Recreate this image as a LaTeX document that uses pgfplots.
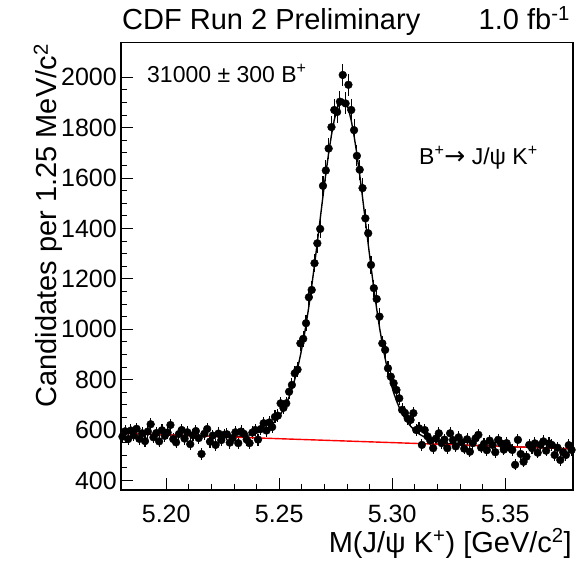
\documentclass[border=0pt]{standalone}
\usepackage{pgfplots}
\usepackage{pgfplotstable}
\pgfplotsset{compat=1.18}
\usepackage{fontspec}
\setmainfont{Liberation Sans}
\newfontfamily\dejavu{DejaVu Sans}

\pgfplotstableread{
x n
5.180625 574
5.181875 595
5.183125 564
5.184375 598
5.185625 579
5.186875 605
5.188125 565
5.189375 587
5.190625 556
5.191875 594
5.193125 623
5.194375 571
5.195625 588
5.196875 555
5.198125 599
5.199375 577
5.200625 590
5.201875 620
5.203125 564
5.204375 551
5.205625 584
5.206875 600
5.208125 566
5.209375 591
5.210625 544
5.211875 579
5.213125 596
5.214375 568
5.215625 505
5.216875 585
5.218125 604
5.219375 554
5.220625 578
5.221875 541
5.223125 586
5.224375 560
5.225625 581
5.226875 583
5.228125 550
5.229375 568
5.230625 591
5.231875 548
5.233125 594
5.234375 585
5.235625 562
5.236875 548
5.238125 590
5.239375 600
5.240625 562
5.241875 604
5.243125 627
5.244375 598
5.245625 630
5.246875 612
5.248125 652
5.249375 657
5.250625 706
5.251875 688
5.253125 706
5.254375 752
5.255625 779
5.256875 825
5.258125 840
5.259375 944
5.260625 962
5.261875 1024
5.263125 1127
5.264375 1156
5.265625 1262
5.266875 1341
5.268125 1398
5.269375 1569
5.270625 1630
5.271875 1717
5.273125 1802
5.274375 1870
5.275625 1862
5.276875 1903
5.278125 2009
5.279375 1896
5.280625 1970
5.281875 1870
5.283125 1790
5.284375 1688
5.285625 1633
5.286875 1560
5.288125 1440
5.289375 1381
5.290625 1255
5.291875 1163
5.293125 1120
5.294375 1050
5.295625 944
5.296875 918
5.298125 845
5.299375 812
5.300625 786
5.301875 759
5.303125 726
5.304375 680
5.305625 668
5.306875 645
5.308125 640
5.309375 667
5.310625 600
5.311875 607
5.313125 541
5.314375 600
5.315625 575
5.316875 558
5.318125 528
5.319375 566
5.320625 587
5.321875 548
5.323125 562
5.324375 528
5.325625 587
5.326875 560
5.328125 535
5.329375 571
5.330625 552
5.331875 526
5.333125 563
5.334375 514
5.335625 548
5.336875 567
5.338125 581
5.339375 530
5.340625 545
5.341875 520
5.343125 558
5.344375 541
5.345625 512
5.346875 561
5.348125 547
5.349375 522
5.350625 548
5.351875 530
5.353125 521
5.354375 462
5.355625 561
5.356875 505
5.358125 474
5.359375 494
5.360625 541
5.361875 528
5.363125 547
5.364375 510
5.365625 541
5.366875 555
5.368125 518
5.369375 547
5.370625 541
5.371875 501
5.373125 530
5.374375 481
5.375625 512
5.376875 501
5.378125 540
5.379375 521
}\datatable

\pgfplotstableread{
x f
5.180000 587.3
5.223125 573.9
5.224375 574.0
5.225625 574.1
5.226875 574.3
5.228125 574.5
5.229375 574.7
5.230625 575.0
5.231875 575.4
5.233125 576.0
5.234375 577.4
5.235625 579.1
5.236875 580.7
5.238125 583.3
5.239375 585.9
5.240625 589.5
5.241875 594.1
5.243125 599.7
5.244375 605.3
5.245625 613.9
5.246875 622.6
5.248125 634.2
5.249375 646.8
5.250625 663.4
5.251875 682.0
5.253125 704.6
5.254375 731.2
5.255625 762.9
5.256875 800.5
5.258125 844.1
5.259375 895.7
5.260625 952.3
5.261875 1017.9
5.263125 1090.5
5.264375 1170.1
5.265625 1255.7
5.266875 1345.4
5.268125 1437.0
5.269375 1528.6
5.270625 1617.2
5.271875 1698.8
5.273125 1770.4
5.274375 1831.0
5.275625 1875.6
5.276875 1903.3
5.278125 1911.9
5.279375 1902.5
5.280625 1874.1
5.281875 1828.7
5.283125 1767.3
5.284375 1694.9
5.285625 1612.5
5.286875 1523.2
5.288125 1430.8
5.289375 1338.4
5.290625 1248.0
5.291875 1161.6
5.293125 1081.2
5.294375 1007.8
5.295625 941.4
5.296875 884.1
5.298125 831.7
5.299375 787.3
5.300625 748.9
5.301875 716.5
5.303125 689.1
5.304375 665.7
5.305625 646.3
5.306875 629.0
5.308125 615.6
5.309375 603.2
5.310625 593.8
5.311875 584.4
5.313125 578.0
5.314375 571.6
5.315625 566.2
5.316875 561.9
5.318125 558.5
5.319375 555.1
5.320625 552.7
5.321875 550.3
5.323125 547.9
5.324375 546.5
5.325625 545.1
5.326875 544.6
5.328125 543.6
5.329375 542.8
5.330625 541.8
5.331875 541.1
5.333125 539.8
5.380000 525.3
}\fittable

\begin{document}
\begin{tikzpicture}
\useasboundingbox (-121pt,-73pt) rectangle (456pt,490pt);
\begin{axis}[
  scale only axis, width=452pt, height=447.3pt,
  xmin=5.18, xmax=5.38, ymin=362, ymax=2137,
  axis line style={line width=1.2pt},
  tick align=inside, tick pos=left,
  xtick={5.20,5.25,5.30,5.35}, xticklabels={5.20,5.25,5.30,5.35},
  minor x tick num=4,
  ytick={400,600,800,1000,1200,1400,1600,1800,2000}, minor y tick num=3,
  major tick length=12pt, minor tick length=6pt,
  tick style={line width=1pt, black},
  ticklabel style={font=\fontsize{25}{29}\selectfont},
  xticklabel style={anchor=base, inner sep=0pt, yshift=-32pt},
  yticklabel style={anchor=east, inner sep=0pt, xshift=-4pt},
  /pgf/number format/assume math mode=true,
  /pgf/number format/1000 sep={},
]
\addplot[only marks, mark=*, mark size=3.9pt, black,
  error bars/.cd, y dir=both, y explicit,
  error bar style={line width=1.1pt, black}, error mark=none]
  table[x=x, y=n, y error expr={sqrt(\thisrow{n})}] {\datatable};
\addplot[black, line width=1.4pt, no marks] table[x=x, y=f] {\fittable};
\addplot[red, line width=1.4pt, no marks] coordinates {(5.18,587.3) (5.38,525.3)};
\end{axis}
\node[anchor=base west, font=\fontsize{29}{34}\selectfont, inner sep=0] at (1pt,460pt) {CDF Run 2 Preliminary};
\node[anchor=base east, font=\fontsize{29}{34}\selectfont, inner sep=0] at (449pt,460pt) {1.0 fb\textsuperscript{-1}};
\node[anchor=base west, font=\fontsize{23}{27}\selectfont, inner sep=0] at (26pt,407pt) {31000 ± 300 B\textsuperscript{+}};
\node[anchor=base west, font=\fontsize{23}{27}\selectfont, inner sep=0] at (298pt,325pt) {B\textsuperscript{+}{\dejavu\fontsize{25}{29}\selectfont→} J/ψ K\textsuperscript{+}};
\node[rotate=90, anchor=base east, font=\fontsize{29}{34}\selectfont, inner sep=0] at (-64pt,446pt) {Candidates per 1.25 MeV/c\textsuperscript{2}};
\node[anchor=base east, font=\fontsize{29}{34}\selectfont, inner sep=0] at (451pt,-62pt) {M(J/ψ K\textsuperscript{+}) [GeV/c\textsuperscript{2}]};
\end{tikzpicture}
\end{document}
